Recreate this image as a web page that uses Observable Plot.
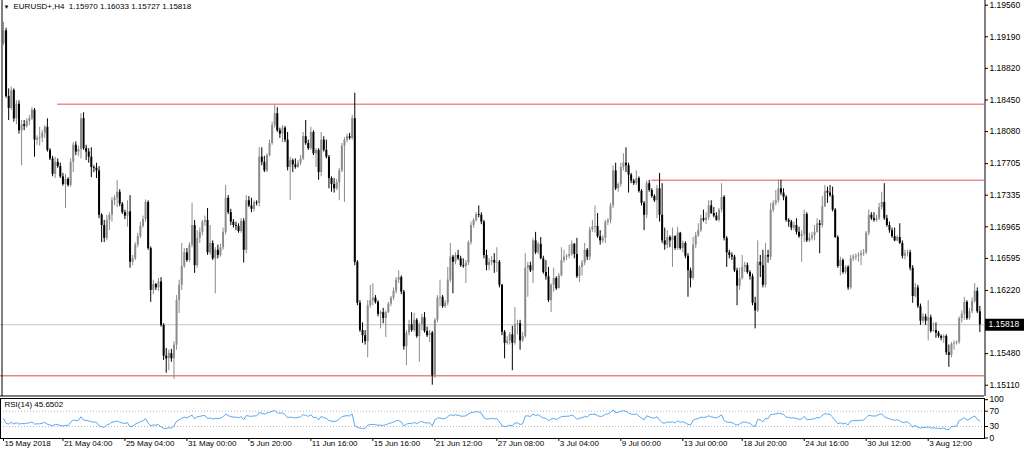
<!DOCTYPE html>
<html><head><meta charset="utf-8">
<script src="https://cdn.jsdelivr.net/npm/d3@7"></script>
<script src="https://cdn.jsdelivr.net/npm/@observablehq/plot@0.6"></script>
<style>
body{margin:0;background:#fff;}
#wrap{position:relative;width:1024px;height:455px;overflow:hidden;background:#fff;}
#main,#rsi{position:absolute;left:0;}
#main{top:0;}
#rsi{top:396px;}
</style></head>
<body><div id="wrap"><div id="main"></div><div id="rsi"></div></div>
<script>
// ---------------- data ----------------
const symbol = "EURUSD+,H4";
const lastBar = {open: 1.15970, high: 1.16033, low: 1.15727, close: 1.15818};
const firstOpen = 1.1911;               // open of the first visible H4 bar
// H4 closes, highs and lows, 15 May 2018 -> 7 Aug 2018 (open = previous close)
const closes = [1.1926,1.1849,1.1835,1.1856,1.1823,1.1840,1.1809,1.1816,1.1814,1.1820,
1.1823,1.1833,1.1798,1.1800,1.1801,1.1806,1.1813,1.1786,1.1776,1.1758,
1.1772,1.1767,1.1755,1.1746,1.1752,1.1745,1.1772,1.1792,1.1784,1.1787,
1.1823,1.1788,1.1784,1.1778,1.1766,1.1765,1.1762,1.1710,1.1698,1.1683,
1.1704,1.1710,1.1727,1.1730,1.1737,1.1723,1.1713,1.1709,1.1714,1.1655,
1.1659,1.1675,1.1685,1.1697,1.1705,1.1725,1.1671,1.1622,1.1629,1.1625,
1.1632,1.1581,1.1545,1.1542,1.1548,1.1542,1.1558,1.1610,1.1628,1.1650,
1.1666,1.1657,1.1675,1.1698,1.1651,1.1683,1.1690,1.1702,1.1704,1.1666,
1.1677,1.1659,1.1669,1.1663,1.1672,1.1690,1.1730,1.1713,1.1702,1.1698,
1.1697,1.1691,1.1703,1.1669,1.1727,1.1721,1.1717,1.1725,1.1724,1.1778,
1.1772,1.1762,1.1780,1.1794,1.1815,1.1829,1.1809,1.1805,1.1812,1.1798,
1.1766,1.1774,1.1769,1.1766,1.1771,1.1776,1.1802,1.1794,1.1788,1.1807,
1.1782,1.1786,1.1760,1.1798,1.1786,1.1778,1.1753,1.1746,1.1741,1.1748,
1.1762,1.1791,1.1798,1.1802,1.1800,1.1823,1.1655,1.1607,1.1575,1.1569,
1.1562,1.1604,1.1610,1.1613,1.1608,1.1594,1.1596,1.1589,1.1596,1.1606,
1.1613,1.1621,1.1634,1.1637,1.1620,1.1556,1.1572,1.1582,1.1575,1.1587,
1.1568,1.1582,1.1590,1.1574,1.1569,1.1572,1.1522,1.1587,1.1613,1.1614,
1.1603,1.1607,1.1634,1.1661,1.1655,1.1663,1.1659,1.1651,1.1650,1.1654,
1.1678,1.1698,1.1704,1.1711,1.1710,1.1702,1.1663,1.1651,1.1655,1.1657,
1.1654,1.1655,1.1628,1.1573,1.1560,1.1563,1.1570,1.1560,1.1582,1.1583,
1.1563,1.1568,1.1648,1.1651,1.1645,1.1680,1.1666,1.1676,1.1659,1.1643,
1.1638,1.1610,1.1628,1.1636,1.1624,1.1639,1.1657,1.1661,1.1662,1.1664,
1.1676,1.1664,1.1638,1.1649,1.1654,1.1669,1.1661,1.1693,1.1696,1.1697,
1.1685,1.1680,1.1683,1.1702,1.1704,1.1721,1.1762,1.1741,1.1746,1.1766,
1.1771,1.1768,1.1757,1.1750,1.1747,1.1753,1.1738,1.1724,1.1710,1.1747,
1.1739,1.1732,1.1727,1.1741,1.1710,1.1680,1.1675,1.1684,1.1680,1.1685,
1.1671,1.1689,1.1671,1.1677,1.1662,1.1645,1.1636,1.1675,1.1686,1.1692,
1.1706,1.1704,1.1707,1.1721,1.1712,1.1709,1.1704,1.1716,1.1731,1.1683,
1.1666,1.1663,1.1661,1.1645,1.1627,1.1636,1.1649,1.1651,1.1643,1.1638,
1.1607,1.1598,1.1655,1.1651,1.1628,1.1663,1.1661,1.1716,1.1724,1.1727,
1.1741,1.1736,1.1731,1.1704,1.1702,1.1695,1.1698,1.1690,1.1685,1.1687,
1.1711,1.1680,1.1683,1.1686,1.1690,1.1700,1.1698,1.1720,1.1738,1.1736,
1.1733,1.1716,1.1684,1.1650,1.1657,1.1643,1.1649,1.1625,1.1659,1.1661,
1.1662,1.1663,1.1665,1.1666,1.1689,1.1710,1.1706,1.1704,1.1706,1.1719,
1.1725,1.1706,1.1698,1.1692,1.1685,1.1680,1.1684,1.1677,1.1662,1.1665,
1.1666,1.1648,1.1615,1.1625,1.1603,1.1586,1.1591,1.1586,1.1590,1.1574,
1.1575,1.1572,1.1568,1.1566,1.1568,1.1549,1.1546,1.1559,1.1560,1.1561,
1.1589,1.1594,1.1608,1.1589,1.1597,1.1609,1.1621,1.1597,1.15818];
const highs = [1.1936,1.1929,1.1858,1.1860,1.1858,1.1844,1.1844,1.1821,1.1821,1.1823,
1.1827,1.1836,1.1835,1.1803,1.1813,1.1809,1.1815,1.1823,1.1788,1.1779,
1.1778,1.1776,1.1771,1.1759,1.1758,1.1754,1.1776,1.1795,1.1796,1.1791,
1.1829,1.1830,1.1792,1.1788,1.1789,1.1768,1.1771,1.1767,1.1712,1.1704,
1.1710,1.1713,1.1731,1.1733,1.1751,1.1740,1.1725,1.1716,1.1727,1.1733,
1.1663,1.1678,1.1689,1.1702,1.1709,1.1728,1.1727,1.1673,1.1634,1.1630,
1.1636,1.1637,1.1583,1.1554,1.1552,1.1553,1.1562,1.1616,1.1634,1.1677,
1.1671,1.1671,1.1678,1.1724,1.1704,1.1692,1.1695,1.1704,1.1709,1.1718,
1.1698,1.1680,1.1672,1.1675,1.1676,1.1695,1.1745,1.1733,1.1717,1.1705,
1.1702,1.1700,1.1706,1.1706,1.1733,1.1732,1.1730,1.1727,1.1727,1.1789,
1.1789,1.1779,1.1782,1.1798,1.1819,1.1839,1.1836,1.1812,1.1815,1.1814,
1.1807,1.1778,1.1776,1.1776,1.1774,1.1780,1.1807,1.1821,1.1798,1.1813,
1.1809,1.1788,1.1788,1.1807,1.1802,1.1798,1.1780,1.1755,1.1753,1.1752,
1.1765,1.1794,1.1801,1.1805,1.1806,1.1827,1.1853,1.1657,1.1610,1.1584,
1.1575,1.1610,1.1628,1.1630,1.1616,1.1610,1.1598,1.1601,1.1598,1.1608,
1.1615,1.1625,1.1637,1.1645,1.1639,1.1622,1.1575,1.1587,1.1596,1.1595,
1.1589,1.1584,1.1594,1.1596,1.1579,1.1575,1.1574,1.1589,1.1616,1.1634,
1.1616,1.1610,1.1649,1.1677,1.1663,1.1666,1.1669,1.1662,1.1659,1.1657,
1.1680,1.1702,1.1706,1.1713,1.1721,1.1713,1.1704,1.1669,1.1659,1.1662,
1.1665,1.1672,1.1657,1.1629,1.1575,1.1568,1.1573,1.1580,1.1602,1.1587,
1.1587,1.1573,1.1665,1.1655,1.1655,1.1683,1.1690,1.1678,1.1684,1.1662,
1.1657,1.1649,1.1630,1.1648,1.1638,1.1642,1.1672,1.1669,1.1664,1.1675,
1.1680,1.1677,1.1683,1.1651,1.1657,1.1677,1.1671,1.1696,1.1704,1.1721,
1.1712,1.1692,1.1686,1.1704,1.1706,1.1724,1.1768,1.1771,1.1748,1.1771,
1.1782,1.1789,1.1771,1.1759,1.1752,1.1762,1.1755,1.1740,1.1726,1.1750,
1.1751,1.1741,1.1734,1.1745,1.1759,1.1747,1.1695,1.1692,1.1686,1.1695,
1.1686,1.1696,1.1690,1.1680,1.1679,1.1665,1.1648,1.1684,1.1690,1.1700,
1.1710,1.1716,1.1713,1.1727,1.1727,1.1719,1.1713,1.1718,1.1747,1.1733,
1.1685,1.1669,1.1666,1.1663,1.1648,1.1648,1.1663,1.1655,1.1654,1.1645,
1.1641,1.1614,1.1680,1.1663,1.1669,1.1677,1.1669,1.1724,1.1727,1.1739,
1.1751,1.1751,1.1741,1.1733,1.1706,1.1704,1.1702,1.1706,1.1696,1.1692,
1.1716,1.1713,1.1689,1.1690,1.1698,1.1706,1.1704,1.1732,1.1745,1.1743,
1.1745,1.1743,1.1718,1.1686,1.1661,1.1659,1.1651,1.1651,1.1663,1.1664,
1.1665,1.1666,1.1669,1.1670,1.1691,1.1716,1.1713,1.1713,1.1710,1.1724,
1.1737,1.1747,1.1710,1.1702,1.1695,1.1695,1.1686,1.1700,1.1680,1.1669,
1.1669,1.1669,1.1651,1.1630,1.1628,1.1606,1.1595,1.1594,1.1610,1.1593,
1.1584,1.1584,1.1574,1.1570,1.1570,1.1570,1.1558,1.1561,1.1563,1.1563,
1.1591,1.1598,1.1614,1.1610,1.1601,1.1613,1.1630,1.1625,1.16033];
const lows = [1.1909,1.1847,1.1821,1.1833,1.1819,1.1816,1.1805,1.1768,1.1809,1.1812,
1.1815,1.1821,1.1778,1.1792,1.1791,1.1795,1.1800,1.1784,1.1774,1.1755,
1.1753,1.1765,1.1753,1.1744,1.1718,1.1743,1.1743,1.1760,1.1780,1.1779,
1.1776,1.1786,1.1774,1.1771,1.1754,1.1760,1.1753,1.1706,1.1678,1.1678,
1.1680,1.1692,1.1702,1.1721,1.1719,1.1720,1.1711,1.1705,1.1696,1.1648,
1.1651,1.1657,1.1672,1.1683,1.1695,1.1702,1.1669,1.1608,1.1617,1.1622,
1.1621,1.1579,1.1540,1.1525,1.1528,1.1538,1.1518,1.1552,1.1595,1.1622,
1.1648,1.1655,1.1655,1.1672,1.1642,1.1648,1.1677,1.1686,1.1697,1.1663,
1.1663,1.1657,1.1618,1.1659,1.1661,1.1669,1.1687,1.1711,1.1698,1.1695,
1.1692,1.1689,1.1689,1.1654,1.1665,1.1719,1.1713,1.1714,1.1721,1.1720,
1.1768,1.1760,1.1760,1.1778,1.1792,1.1812,1.1807,1.1800,1.1795,1.1795,
1.1762,1.1727,1.1760,1.1764,1.1765,1.1768,1.1774,1.1792,1.1786,1.1786,
1.1780,1.1766,1.1751,1.1755,1.1784,1.1776,1.1741,1.1737,1.1736,1.1739,
1.1727,1.1760,1.1725,1.1795,1.1798,1.1798,1.1651,1.1604,1.1573,1.1560,
1.1558,1.1543,1.1601,1.1604,1.1606,1.1591,1.1577,1.1583,1.1567,1.1595,
1.1603,1.1610,1.1618,1.1630,1.1617,1.1552,1.1534,1.1569,1.1573,1.1573,
1.1566,1.1538,1.1575,1.1572,1.1567,1.1561,1.1511,1.1519,1.1584,1.1603,
1.1601,1.1601,1.1604,1.1631,1.1618,1.1652,1.1657,1.1649,1.1648,1.1630,
1.1651,1.1675,1.1695,1.1702,1.1707,1.1699,1.1659,1.1645,1.1645,1.1651,
1.1642,1.1643,1.1625,1.1569,1.1542,1.1558,1.1558,1.1528,1.1558,1.1570,
1.1552,1.1561,1.1566,1.1614,1.1643,1.1630,1.1664,1.1664,1.1658,1.1641,
1.1634,1.1608,1.1596,1.1620,1.1622,1.1630,1.1638,1.1654,1.1657,1.1659,
1.1662,1.1659,1.1636,1.1631,1.1639,1.1651,1.1657,1.1657,1.1690,1.1689,
1.1683,1.1675,1.1677,1.1677,1.1698,1.1700,1.1718,1.1739,1.1737,1.1743,
1.1762,1.1760,1.1736,1.1747,1.1745,1.1745,1.1736,1.1721,1.1692,1.1706,
1.1737,1.1730,1.1725,1.1706,1.1702,1.1677,1.1669,1.1671,1.1672,1.1649,
1.1669,1.1669,1.1669,1.1666,1.1659,1.1614,1.1625,1.1634,1.1671,1.1684,
1.1690,1.1702,1.1699,1.1704,1.1711,1.1707,1.1703,1.1702,1.1713,1.1680,
1.1649,1.1659,1.1657,1.1643,1.1604,1.1622,1.1634,1.1643,1.1641,1.1634,
1.1604,1.1577,1.1596,1.1637,1.1625,1.1625,1.1654,1.1657,1.1713,1.1721,
1.1724,1.1733,1.1727,1.1702,1.1696,1.1692,1.1692,1.1687,1.1683,1.1655,
1.1678,1.1678,1.1678,1.1680,1.1680,1.1689,1.1665,1.1695,1.1719,1.1724,
1.1731,1.1714,1.1683,1.1648,1.1639,1.1641,1.1641,1.1622,1.1623,1.1656,
1.1657,1.1655,1.1651,1.1662,1.1664,1.1686,1.1704,1.1702,1.1702,1.1704,
1.1716,1.1704,1.1696,1.1689,1.1683,1.1679,1.1679,1.1676,1.1659,1.1658,
1.1661,1.1645,1.1607,1.1613,1.1601,1.1581,1.1583,1.1581,1.1563,1.1572,
1.1573,1.1566,1.1566,1.1563,1.1560,1.1546,1.1532,1.1543,1.1552,1.1558,
1.1559,1.1584,1.1587,1.1587,1.1587,1.1595,1.1607,1.1595,1.15727];

const priceTicks = [1.19560,1.19190,1.18820,1.18450,1.18080,1.17705,1.17335,1.16965,1.16595,1.16220,1.15850,1.15480,1.15110];
const timeLabels = ["15 May 2018","21 May 04:00","25 May 04:00","31 May 00:00","5 Jun 20:00","11 Jun 16:00","15 Jun 16:00","21 Jun 12:00","27 Jun 08:00","3 Jul 04:00","9 Jul 00:00","13 Jul 00:00","18 Jul 20:00","24 Jul 16:00","30 Jul 12:00","3 Aug 12:00"];
const timeLabelBars = [0,23,47,71,95,119,143,167,191,215,239,263,286,310,334,358];
const resistanceLevels = [{price: 1.1840, fromBar: 21}, {price: 1.1751, fromBar: 251}];
const supportLevel = 1.1522;
const rsiPeriod = 14;
const rsiSeed = {avgGain: 0.0009, avgLoss: 0.0010};
const rsiLastLabel = "45.6502";
const rsiLevels = [70, 30];
const rsiTicks = [0, 30, 70, 100];

// ---------------- build ----------------
const candles = closes.map((c, i) => {
  const o = i === 0 ? firstOpen : closes[i - 1];
  return {i, open: o, close: c, high: Math.max(highs[i], o, c), low: Math.min(lows[i], o, c)};
});
const upBars = candles.filter(d => d.close >= d.open);
const downBars = candles.filter(d => d.close < d.open);

let ag = rsiSeed.avgGain, al = rsiSeed.avgLoss;
const rsiSeries = candles.map(d => {
  const ch = d.close - d.open;
  ag = (ag * (rsiPeriod - 1) + Math.max(ch, 0)) / rsiPeriod;
  al = (al * (rsiPeriod - 1) + Math.max(-ch, 0)) / rsiPeriod;
  return {i: d.i, v: 100 - 100 / (1 + ag / al)};
});

const xDomain = [-1.16, 379.8];
const yDomain = [1.14978, 1.19615];
const font = "Liberation Sans, Arial, sans-serif";
const f5 = d3.format(".5f");
const UP = "#8c8c8c", DOWN = "#000000";
// the tick label hidden behind the current-price box is not drawn (the box covers it in the reference)
const hiddenByBox = t => Math.abs(t - lastBar.close) < 0.0006;

const main = Plot.plot({
  width: 1024, height: 396,
  marginLeft: 0, marginRight: 40, marginTop: 0, marginBottom: 0,
  style: {fontFamily: font, fontSize: "8px", color: "#000", background: "transparent", overflow: "visible"},
  x: {domain: xDomain, axis: null},
  y: {domain: yDomain, axis: null},
  marks: [
    Plot.ruleY([lastBar.close], {stroke: "#c4c4c4", strokeWidth: 1}),
    Plot.ruleY(resistanceLevels, {y: "price", x1: d => d.fromBar, x2: () => xDomain[1], stroke: "#f28b8b", strokeWidth: 1.6}),
    Plot.ruleY([supportLevel], {stroke: "#dd4a4a", strokeWidth: 1}),
    Plot.ruleX(upBars, {x: "i", y1: "low", y2: "high", stroke: UP, strokeWidth: 1}),
    Plot.ruleX(downBars, {x: "i", y1: "low", y2: "high", stroke: DOWN, strokeWidth: 1}),
    Plot.ruleX(upBars, {x: "i", y1: "open", y2: "close", stroke: UP, strokeWidth: 2}),
    Plot.ruleX(downBars, {x: "i", y1: "open", y2: "close", stroke: DOWN, strokeWidth: 2}),
    Plot.ruleX([xDomain[0]], {stroke: "#000", dx: 1.5}),
    Plot.ruleX([xDomain[1]], {stroke: "#000", dx: 0.5}),
    Plot.ruleY([yDomain[0]], {stroke: "#000", dy: -0.5}),
    Plot.axisY(priceTicks, {anchor: "right", tickSize: 3, tickPadding: 2, label: null,
      tickFormat: t => hiddenByBox(t) ? "" : f5(t), fontSize: 8.5, stroke: "#000"}),
    Plot.ruleY([lastBar.close], {x1: () => xDomain[1] + 0.4, x2: () => xDomain[1] + 15.5, stroke: "#000", strokeWidth: 12}),
    Plot.text([lastBar.close], {y: d => d, x: () => xDomain[1], dx: 4, text: d => f5(d), fill: "#fff", textAnchor: "start", fontSize: 8.5}),
    Plot.text(["\u25BC"], {frameAnchor: "top-left", dx: 3, dy: 4, lineAnchor: "top", fontSize: 6}),
    Plot.text([`${symbol}\u00a0\u00a0${[lastBar.open, lastBar.high, lastBar.low, lastBar.close].map(f5).join(" ")}`],
      {frameAnchor: "top-left", dx: 13, dy: 3, lineAnchor: "top", fontSize: 8})
  ]
});
document.getElementById("main").appendChild(main);

const rsiPlot = Plot.plot({
  width: 1024, height: 59,
  marginLeft: 0, marginRight: 40, marginTop: 2, marginBottom: 17,
  style: {fontFamily: font, fontSize: "8px", color: "#000", background: "transparent", overflow: "visible"},
  x: {domain: xDomain, axis: null},
  y: {domain: [-1.3, 103.1], axis: null},
  marks: [
    Plot.ruleY(rsiLevels, {stroke: "#b8b8b8", strokeDasharray: "1,2"}),
    Plot.lineY(rsiSeries, {x: "i", y: "v", stroke: "#5aa8f0", strokeWidth: 1}),
    Plot.frame({stroke: "#000"}),
    Plot.axisY(rsiTicks, {anchor: "right", tickSize: 3, tickPadding: 2, fontSize: 8.5, label: null}),
    Plot.text([`RSI(${rsiPeriod}) ${rsiLastLabel}`], {frameAnchor: "top-left", dx: 4, dy: 3, lineAnchor: "top", fontSize: 8}),
    Plot.ruleX(timeLabelBars, {x: d => d, y1: () => -1.3, y2: () => -9, stroke: "#000"}),
    Plot.text(timeLabels, {x: (d, k) => timeLabelBars[k], text: d => d, frameAnchor: "bottom", textAnchor: "start", lineAnchor: "top", dy: 2, dx: 1, fontSize: 8})
  ]
});
document.getElementById("rsi").appendChild(rsiPlot);
</script>
</body></html>
